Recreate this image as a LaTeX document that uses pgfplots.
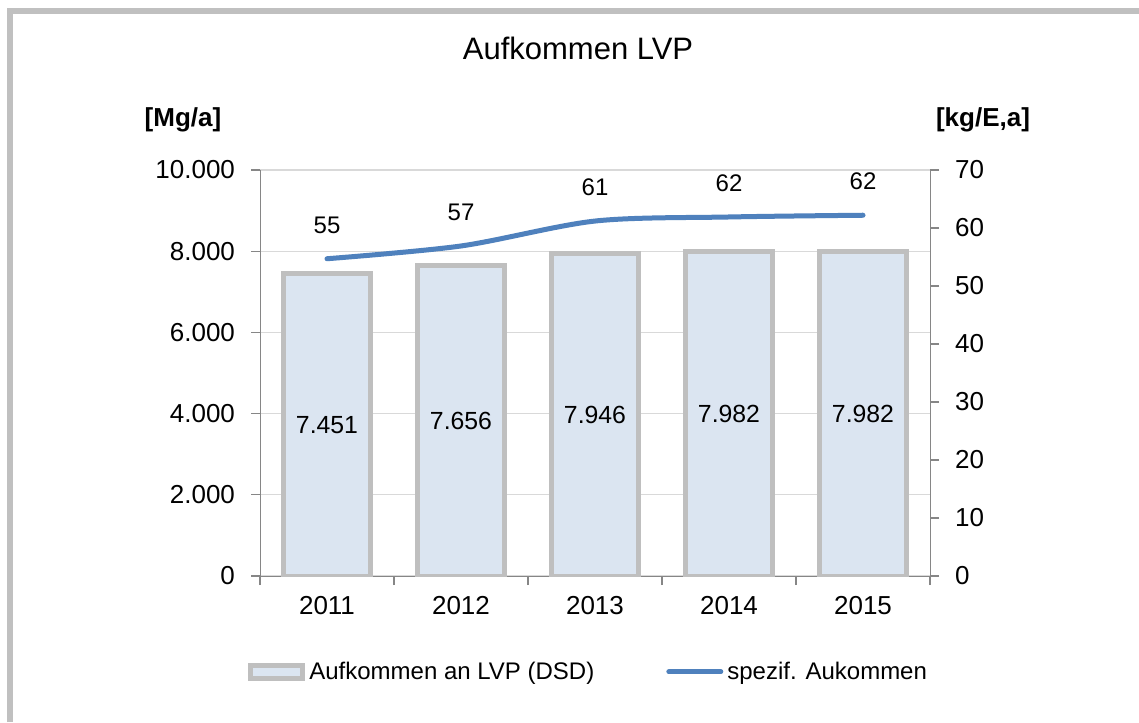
\documentclass[border=0pt]{standalone}
\usepackage{pgfplots}
\pgfplotsset{compat=1.18}
\usepackage{fontspec}
\setmainfont{Liberation Sans}

\definecolor{barfill}{HTML}{DBE5F1}
\definecolor{bardraw}{HTML}{BFBFBF}
\definecolor{lineblue}{HTML}{4F81BD}
\definecolor{axisgray}{HTML}{868686}
\definecolor{gridgray}{HTML}{D9D9D9}
\definecolor{framegray}{HTML}{C0C0C0}

\pgfplotsset{
  common/.style={
    at={(130pt,73pt)}, anchor=south west,
    scale only axis, width=335pt, height=203pt,
    xmin=-0.5, xmax=4.5,
    axis line style={axisgray,-},
    tick style={axisgray, line width=0.6pt},
    tick align=outside, major tick length=4.5pt,
    tick label style={font=\fontsize{13}{15}\selectfont},
    scaled y ticks=false,
    /pgf/number format/assume math mode=true,
    /pgf/number format/1000 sep={.},
  },
}

\begin{document}
\begin{tikzpicture}
\useasboundingbox (0,0) rectangle (569.5pt,361pt);
\fill[white] (0,0) rectangle (569.5pt,361pt);
\draw[framegray, line width=3pt, line join=miter] (5pt,0) -- (5pt,355.5pt) -- (569.5pt,355.5pt);

\node[font=\fontsize{15.5}{18}\selectfont] at (289pt,337pt) {Aufkommen LVP};
\node[font=\fontsize{13}{15}\selectfont\bfseries] at (91.5pt,301pt) {[Mg/a]};
\node[font=\fontsize{13}{15}\selectfont\bfseries] at (491.5pt,301pt) {[kg/E,a]};

% left axis: bars
\begin{axis}[common,
  ymin=0, ymax=10000,
  ytick={0,2000,...,10000},
  xtick={-0.5,0.5,...,4.5},
  x tick label as interval,
  xticklabels={2011,2012,2013,2014,2015},
  axis x line*=bottom, axis y line*=left,
  ymajorgrids, grid style={gridgray, line width=0.6pt},
  xmajorgrids=false,
  yticklabel style={xshift=-4.5pt},
  xticklabel style={yshift=-2pt},
]
\addplot[ybar, bar width=0.65, fill=barfill, draw=bardraw, line width=2.5pt,
  visualization depends on={rawy \as \rawy},
  nodes near coords,
  every node near coord/.append style={anchor=center, text=black,
    font=\fontsize{12.4}{14}\selectfont,
    shift={(axis direction cs:0,-\rawy/2)}},
] coordinates {
  (0,7451) (1,7656) (2,7946) (3,7982) (4,7982)
};
\end{axis}

% right axis: specific amount
\begin{axis}[common,
  ymin=0, ymax=70,
  ytick={0,10,...,70},
  hide x axis, axis y line*=right,
  yticklabel style={xshift=4.5pt},
  legend columns=2,
  legend style={draw=none, fill=none,
    at={(axis description cs:0.492,-0.236)}, anchor=center,
    font=\fontsize{12}{14}\selectfont,
    /tikz/every even column/.append style={column sep=34pt}},
]
\addlegendimage{legend image code/.code={
  \draw[fill=barfill, draw=bardraw, line width=2.5pt] (0pt,-3.25pt) rectangle (26pt,3.25pt);}}
\addlegendentry{Aufkommen an LVP (DSD)}
\addlegendimage{legend image code/.code={
  \draw[lineblue, line width=2.5pt, line cap=round] (0pt,0pt) -- (26pt,0pt);}}
\addlegendentry{spezif. Aukommen}
\addplot[forget plot, lineblue, line width=2.5pt, smooth, line cap=round,
  nodes near coords={\pgfmathprintnumber[fixed,precision=0]{\pgfplotspointmeta}},
  every node near coord/.append style={anchor=south, text=black,
    font=\fontsize{12}{14}\selectfont, yshift=8pt},
] coordinates {
  (0,54.7) (1,56.9) (2,61.2) (3,61.9) (4,62.2)
};
\end{axis}
\end{tikzpicture}
\end{document}
